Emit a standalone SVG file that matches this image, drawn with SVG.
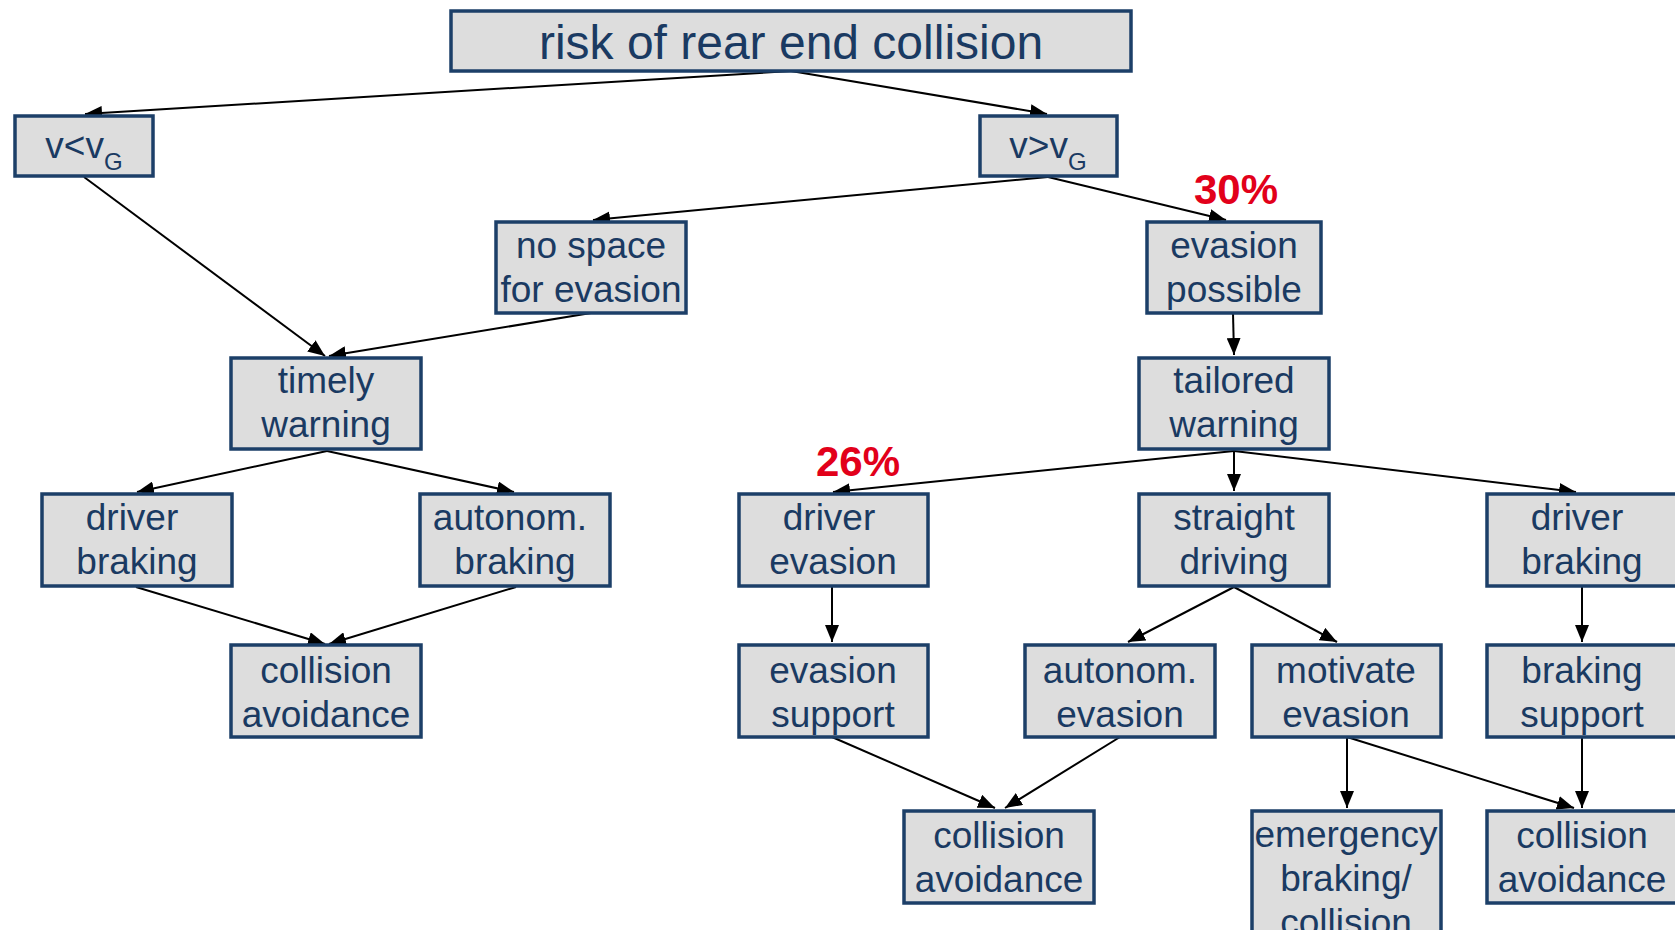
<svg xmlns="http://www.w3.org/2000/svg" width="1675" height="930" viewBox="0 0 1675 930">
<style>
.box{fill:#dddddd;stroke:#1c3f68;stroke-width:3.5}
.t{font-family:"Liberation Sans",Arial,sans-serif;font-size:37px;fill:#1a3a62;text-anchor:middle}
.title{font-size:48px}
.pct{font-family:"Liberation Sans",Arial,sans-serif;font-size:42px;font-weight:bold;fill:#e2001a;text-anchor:middle}
.c line{stroke:#000;stroke-width:2;marker-end:url(#ah)}
</style>
<defs>
<marker id="ah" markerUnits="userSpaceOnUse" markerWidth="18" markerHeight="14" refX="17" refY="7" orient="auto">
<path d="M0,0 L17,7 L0,14 Z" fill="#000"/>
</marker>
</defs>
<rect width="1675" height="930" fill="#fff"/>
<g class="c" id="connectors">
<line x1="791" y1="71" x2="85" y2="114"/>
<line x1="791" y1="71" x2="1047" y2="114"/>
<line x1="1048" y1="177" x2="593" y2="220"/>
<line x1="1048" y1="177" x2="1226" y2="220"/>
<line x1="84" y1="177" x2="325" y2="356"/>
<line x1="591" y1="313" x2="329" y2="356"/>
<line x1="1233" y1="313" x2="1234" y2="355"/>
<line x1="327" y1="451" x2="137" y2="492"/>
<line x1="327" y1="451" x2="514" y2="492"/>
<line x1="136" y1="587" x2="325" y2="644"/>
<line x1="516" y1="587" x2="329" y2="644"/>
<line x1="1234" y1="451" x2="833" y2="492"/>
<line x1="1234" y1="451" x2="1234" y2="491"/>
<line x1="1234" y1="451" x2="1576" y2="492"/>
<line x1="832" y1="587" x2="832" y2="642"/>
<line x1="1234" y1="587" x2="1128" y2="642"/>
<line x1="1234" y1="587" x2="1337" y2="642"/>
<line x1="1582" y1="587" x2="1582" y2="642"/>
<line x1="832" y1="737" x2="995" y2="808"/>
<line x1="1120" y1="737" x2="1005" y2="808"/>
<line x1="1347" y1="737" x2="1347" y2="808"/>
<line x1="1347" y1="737" x2="1574" y2="808"/>
<line x1="1582" y1="737" x2="1582" y2="808"/>
</g>
<g id="n-root"><rect class="box" x="451" y="11" width="680" height="60"/><text class="t title" x="791" y="59">risk of rear end collision</text></g>
<g id="n-vlow"><rect class="box" x="15" y="116" width="138" height="60"/><text class="t" x="84" y="158">v&lt;v<tspan font-size="24" dy="12">G</tspan></text></g>
<g id="n-vhigh"><rect class="box" x="980" y="116" width="137" height="60"/><text class="t" x="1048" y="158">v&gt;v<tspan font-size="24" dy="12">G</tspan></text></g>
<g id="n-nospace"><rect class="box" x="496" y="222" width="190" height="91"/><text class="t" x="591" y="258">no space</text><text class="t" x="591" y="302">for evasion</text></g>
<g id="n-evposs"><rect class="box" x="1147" y="222" width="174" height="91"/><text class="t" x="1234" y="258">evasion</text><text class="t" x="1234" y="302">possible</text></g>
<g id="n-timely"><rect class="box" x="231" y="358" width="190" height="91"/><text class="t" x="326" y="393">timely</text><text class="t" x="326" y="437">warning</text></g>
<g id="n-tailored"><rect class="box" x="1139" y="358" width="190" height="91"/><text class="t" x="1234" y="393">tailored</text><text class="t" x="1234" y="437">warning</text></g>
<g id="n-dbrakeL"><rect class="box" x="42" y="494" width="190" height="92"/><text class="t" x="132" y="530">driver</text><text class="t" x="137" y="574">braking</text></g>
<g id="n-abrake"><rect class="box" x="420" y="494" width="190" height="92"/><text class="t" x="510" y="530">autonom.</text><text class="t" x="515" y="574">braking</text></g>
<g id="n-devasion"><rect class="box" x="739" y="494" width="189" height="92"/><text class="t" x="829" y="530">driver</text><text class="t" x="833" y="574">evasion</text></g>
<g id="n-straight"><rect class="box" x="1139" y="494" width="190" height="92"/><text class="t" x="1234" y="530">straight</text><text class="t" x="1234" y="574">driving</text></g>
<g id="n-dbrakeR"><rect class="box" x="1487" y="494" width="192" height="92"/><text class="t" x="1577" y="530">driver</text><text class="t" x="1582" y="574">braking</text></g>
<g id="n-caL"><rect class="box" x="231" y="645" width="190" height="92"/><text class="t" x="326" y="683">collision</text><text class="t" x="326" y="727">avoidance</text></g>
<g id="n-evsupport"><rect class="box" x="739" y="645" width="189" height="92"/><text class="t" x="833" y="683">evasion</text><text class="t" x="833" y="727">support</text></g>
<g id="n-aevasion"><rect class="box" x="1025" y="645" width="190" height="92"/><text class="t" x="1120" y="683">autonom.</text><text class="t" x="1120" y="727">evasion</text></g>
<g id="n-motivate"><rect class="box" x="1252" y="645" width="189" height="92"/><text class="t" x="1346" y="683">motivate</text><text class="t" x="1346" y="727">evasion</text></g>
<g id="n-brsupport"><rect class="box" x="1487" y="645" width="192" height="92"/><text class="t" x="1582" y="683">braking</text><text class="t" x="1582" y="727">support</text></g>
<g id="n-caM"><rect class="box" x="904" y="811" width="190" height="92"/><text class="t" x="999" y="848">collision</text><text class="t" x="999" y="892">avoidance</text></g>
<g id="n-emergency"><rect class="box" x="1252" y="811" width="189" height="130"/><text class="t" x="1346" y="847">emergency</text><text class="t" x="1346" y="891">braking/</text><text class="t" x="1346" y="935">collision</text></g>
<g id="n-caR"><rect class="box" x="1487" y="811" width="192" height="92"/><text class="t" x="1582" y="848">collision</text><text class="t" x="1582" y="892">avoidance</text></g>
<text class="pct" x="1236" y="204">30%</text>
<text class="pct" x="858" y="476">26%</text>
</svg>
